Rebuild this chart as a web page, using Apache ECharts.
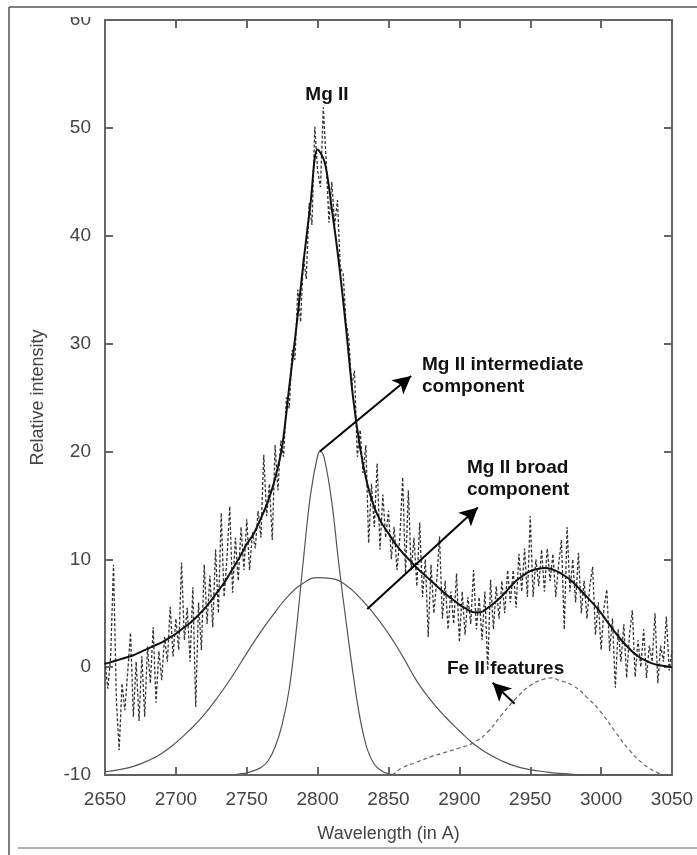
<!DOCTYPE html>
<html>
<head>
<meta charset="utf-8">
<script src="https://cdn.jsdelivr.net/npm/echarts@6/dist/echarts.min.js"></script>
<style>
  html, body { margin: 0; padding: 0; background: #fff; }
  #chart { width: 697px; height: 855px; }
</style>
</head>
<body>
<div id="chart"></div>
<script>
// observed spectrum, sampled every 2 A from 2650 A
const obsStart = 2650
const obsStep = 2
const obsFlux = [
  0.5, -2.0, 1.0, 9.5, -3.0, -7.7, -1.5, -4.0, -0.5, 3.2,
  -4.6, 0.5, -5.0, 1.0, -4.6, 1.9, -1.5, 3.7, -3.3, 1.5,
  -1.2, 2.8, 0.5, 5.6, 1.0, 4.5, 1.6, 9.7, 2.5, 5.5,
  0.5, 7.4, -3.7, 6.0, 1.6, 9.5, 4.0, 8.5, 3.7, 10.9,
  5.0, 14.3, 6.5, 10.0, 14.9, 6.9, 12.0, 8.0, 13.0, 9.0,
  13.7, 9.0, 12.5, 11.0, 14.5, 12.0, 19.7, 14.0, 17.0, 11.8,
  20.6, 16.4, 21.0, 19.5, 25.0, 24.0, 29.4, 28.5, 35.0, 32.0,
  38.0, 36.0, 43.0, 41.0, 50.1, 46.0, 44.5, 51.9, 47.0, 41.2,
  45.0, 41.0, 43.3, 37.0, 36.5, 32.0, 30.5, 26.0, 27.5, 19.5,
  22.0, 18.0, 20.6, 11.5, 17.0, 13.0, 18.9, 10.9, 16.0, 12.0,
  14.5, 10.0, 13.0, 9.0, 12.0, 17.6, 8.7, 16.4, 9.0, 12.0,
  7.5, 13.4, 6.5, 10.0, 2.8, 9.5, 5.0, 8.0, 12.1, 4.5,
  8.0, 3.5, 7.0, 4.0, 8.7, 2.3, 7.0, 3.0, 6.5, 4.0,
  9.0, 3.5, 6.5, 2.5, 7.0, -0.3, 8.1, 3.5, 7.5, 4.5,
  8.0, 5.0, 9.0, 6.0, 9.0, 5.5, 10.5, 7.0, 11.0, 6.5,
  14.0, 6.5, 10.0, 7.5, 10.9, 7.0, 11.0, 8.0, 10.5, 6.5,
  9.5, 11.8, 3.5, 13.0, 7.0, 10.0, 6.0, 10.6, 5.0, 8.0,
  4.5, 7.5, 9.3, 3.0, 6.0, 1.6, 5.5, 7.2, 1.5, 4.5,
  -1.9, 3.5, 0.5, 4.0, -1.0, 3.0, 5.3, -0.9, 2.5, 0.0,
  3.5, -1.0, 2.0, 0.5, 5.0, -1.5, 2.0, 0.5, 4.7, -0.3,
  1.5
]

// total model fit
const fitWave = [
  2650, 2655, 2660, 2665, 2670, 2675, 2680, 2685, 2690, 2695,
  2700, 2705, 2710, 2715, 2720, 2725, 2730, 2735, 2740, 2745,
  2750, 2755, 2760, 2765, 2770, 2775, 2780, 2785, 2790, 2795,
  2800, 2805, 2810, 2815, 2820, 2825, 2830, 2835, 2840, 2845,
  2850, 2855, 2860, 2865, 2870, 2875, 2880, 2885, 2890, 2895,
  2900, 2905, 2910, 2915, 2920, 2925, 2930, 2935, 2940, 2945,
  2950, 2955, 2960, 2965, 2970, 2975, 2980, 2985, 2990, 2995,
  3000, 3005, 3010, 3015, 3020, 3025, 3030, 3035, 3040, 3045,
  3050
]
const fitFlux = [
  0.3, 0.5, 0.7, 0.9, 1.1, 1.4, 1.7, 2.0, 2.3, 2.7,
  3.1, 3.6, 4.1, 4.7, 5.4, 6.2, 7.1, 8.0, 9.1, 10.2,
  11.4, 12.4, 13.8, 15.4, 17.5, 20.5, 26.0, 31.5, 37.5, 43.0,
  48.0, 46.8, 42.5, 37.5, 31.5, 25.0, 20.3, 17.0, 14.8, 13.4,
  12.4, 11.4, 10.6, 9.9, 9.2, 8.6, 8.0, 7.4, 6.8, 6.3,
  5.8, 5.4, 5.1, 5.1, 5.5, 6.0, 6.6, 7.3, 8.0, 8.5,
  8.9, 9.1, 9.2, 9.1, 8.8, 8.4, 7.9, 7.2, 6.5, 5.8,
  5.0, 4.1, 3.2, 2.4, 1.7, 1.1, 0.7, 0.4, 0.2, 0.1,
  0.0
]

// Mg II intermediate component
const interWave = [2650, 2700, 2740, 2745, 2750, 2755, 2760, 2765, 2770, 2775, 2780, 2785, 2790, 2795, 2800, 2802, 2805, 2810, 2815, 2820, 2825, 2830, 2835, 2840, 2845, 2850, 2855, 2900, 3050]
const interFlux = [-10, -10, -10, -9.9, -9.8, -9.6, -9.3, -8.7, -7.4, -5.3, -2.0, 3.5, 10.0, 16.0, 19.6, 20.0, 19.2, 15.3, 9.5, 4.3, -0.6, -4.8, -7.6, -9.0, -9.6, -9.9, -10, -10, -10]

// Mg II broad component
const broadWave = [
  2650, 2660, 2670, 2680, 2690, 2700, 2710, 2720, 2730, 2740,
  2750, 2760, 2770, 2780, 2790, 2800, 2810, 2820, 2830, 2840,
  2850, 2860, 2870, 2880, 2890, 2900, 2910, 2920, 2930, 2940,
  2950, 2960, 2970, 2980, 2990, 3050
]
const broadFlux = [
  -9.7, -9.5, -9.2, -8.7, -8.0, -7.0, -5.8, -4.4, -2.7, -0.8,
  1.3, 3.3, 5.1, 6.7, 7.8, 8.3, 8.2, 7.6, 6.4, 4.9,
  3.1, 1.0, -1.3, -3.1, -4.6, -5.9, -7.1, -8.0, -8.7, -9.2,
  -9.5, -9.7, -9.85, -9.93, -10, -10
]

// Fe II features
const feWave = [2650, 2850, 2860, 2870, 2880, 2890, 2900, 2910, 2920, 2930, 2940, 2950, 2960, 2965, 2970, 2980, 2990, 3000, 3010, 3020, 3030, 3040, 3045, 3050]
const feFlux = [-10, -10, -9.3, -8.8, -8.3, -7.9, -7.5, -7.0, -6.0, -4.4, -2.9, -1.7, -1.1, -1.0, -1.2, -1.7, -2.8, -4.2, -6.0, -7.7, -9.0, -9.8, -10, -10]

const pair = (xs, ys) => xs.map((x, i) => [x, ys[i]])
const obsData = obsFlux.map((v, i) => [obsStart + i * obsStep, v])

const axisColor = '#666'
const labelFont = 'Liberation Sans'
const noteFont = 'bold 19px "Liberation Sans"'

const baseAxis = {
  type: 'value',
  axisLine: { show: true, onZero: false, lineStyle: { color: axisColor, width: 2 } },
  axisTick: { show: true, inside: true, length: 8, lineStyle: { color: axisColor, width: 2 } },
  splitLine: { show: false }
}

const note = (x, y, text, align) => ({
  type: 'text', x, y, z: 100,
  style: { text, font: noteFont, fill: '#111', textAlign: align || 'left', textVerticalAlign: 'middle' }
})

const chart = echarts.init(document.getElementById('chart'), null, { renderer: 'canvas' })

chart.setOption({
  backgroundColor: '#fff',
  animation: false,
  grid: { left: 105, right: 25, top: 20, bottom: 80 },
  xAxis: [
    {
      ...baseAxis,
      min: 2650, max: 3050, interval: 50,
      position: 'bottom',
      axisLabel: { fontSize: 19, color: '#444', margin: 15, fontFamily: labelFont, formatter: (v) => String(v) },
      name: 'Wavelength (in A)',
      nameLocation: 'middle',
      nameGap: 50,
      nameTextStyle: { fontSize: 18, color: '#444', fontFamily: labelFont }
    },
    {
      ...baseAxis,
      min: 2650, max: 3050, interval: 50,
      position: 'top',
      axisLabel: { show: false }
    }
  ],
  yAxis: [
    {
      ...baseAxis,
      min: -10, max: 60, interval: 10,
      position: 'left',
      axisLabel: { fontSize: 19, color: '#444', margin: 14, fontFamily: labelFont },
      name: 'Relative intensity',
      nameLocation: 'middle',
      nameGap: 58,
      nameTextStyle: { fontSize: 18, color: '#444', fontFamily: labelFont }
    },
    {
      ...baseAxis,
      min: -10, max: 60, interval: 10,
      position: 'right',
      axisLabel: { show: false }
    }
  ],
  series: [
    {
      name: 'broad',
      type: 'line',
      data: pair(broadWave, broadFlux),
      smooth: true,
      showSymbol: false,
      lineStyle: { color: '#555', width: 1.2 },
      z: 2
    },
    {
      name: 'intermediate',
      type: 'line',
      data: pair(interWave, interFlux),
      smooth: 0.4,
      showSymbol: false,
      lineStyle: { color: '#555', width: 1.2 },
      z: 2
    },
    {
      name: 'Fe II',
      type: 'line',
      data: pair(feWave, feFlux),
      smooth: true,
      showSymbol: false,
      lineStyle: { color: '#666', width: 1.2, type: [4, 3] },
      z: 2
    },
    {
      name: 'observed',
      type: 'line',
      data: obsData,
      showSymbol: false,
      lineStyle: { color: '#333', width: 1.3, type: [3, 2] },
      z: 3
    },
    {
      name: 'fit',
      type: 'line',
      data: pair(fitWave, fitFlux),
      smooth: 0.35,
      showSymbol: false,
      lineStyle: { color: '#111', width: 2 },
      z: 4,
      markLine: {
        silent: true,
        symbol: ['none', 'arrow'],
        symbolSize: [14, 18],
        label: { show: false },
        lineStyle: { color: '#000', width: 2, type: 'solid' },
        data: [
          [{ coord: [2801.5, 20] }, { coord: [2866, 27] }],
          [{ coord: [2835, 5.4] }, { coord: [2913, 14.8] }],
          [{ coord: [2939, -3.4] }, { coord: [2923.5, -1.45] }]
        ]
      }
    }
  ],
  graphic: [
    // outer frame of the figure
    { type: 'line', shape: { x1: 9, y1: 7, x2: 697, y2: 7 }, style: { stroke: '#555', lineWidth: 1.5 } },
    { type: 'line', shape: { x1: 9, y1: 7, x2: 9, y2: 855 }, style: { stroke: '#555', lineWidth: 1.5 } },
    { type: 'line', shape: { x1: 18, y1: 848, x2: 697, y2: 848 }, style: { stroke: '#999', lineWidth: 1.5 } },
    // top of the "60" tick label is cut off in the original
    { type: 'rect', shape: { x: 50, y: 8.5, width: 50, height: 8.5 }, style: { fill: '#fff' }, z: 100 },
    note(327, 95, 'Mg II', 'center'),
    note(422, 365, 'Mg II intermediate'),
    note(422, 387, 'component'),
    note(467, 468, 'Mg II broad'),
    note(467, 490, 'component'),
    note(447, 669, 'Fe II features')
  ]
})
</script>
</body>
</html>
